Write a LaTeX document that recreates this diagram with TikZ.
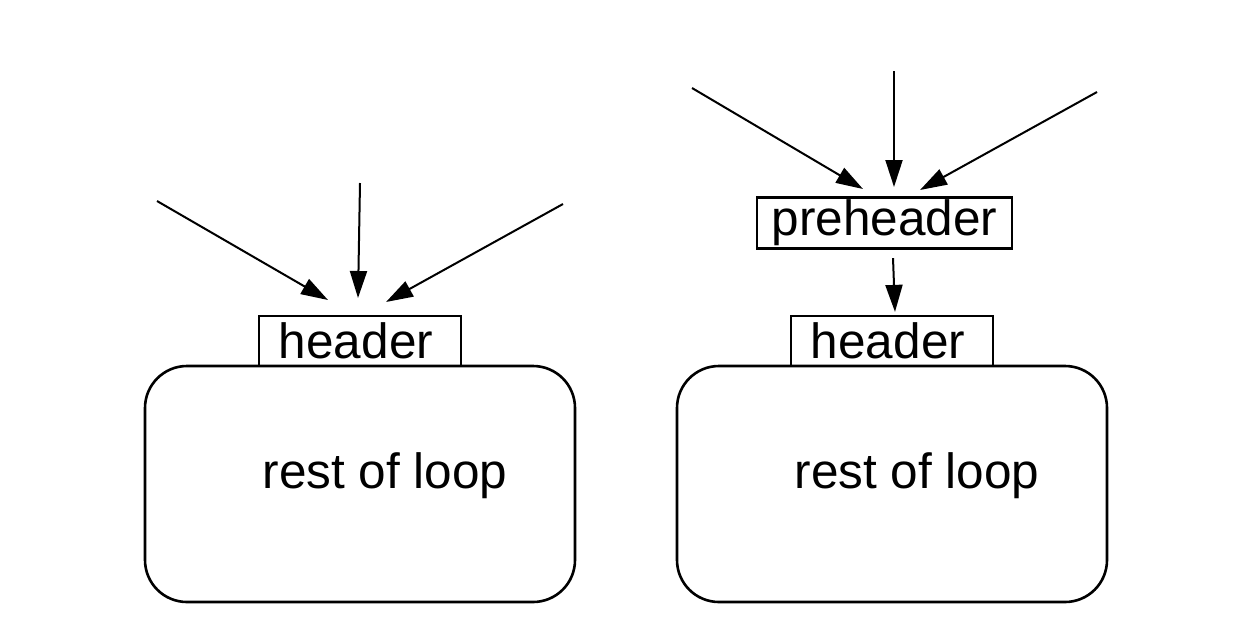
\documentclass[tikz,border=0pt]{standalone}
\usepackage{fontspec}
\setmainfont{Liberation Sans}
\usetikzlibrary{arrows.meta}
\begin{document}
\begin{tikzpicture}[x=1pt,y=-1pt,
  lbl/.style={font=\fontsize{49.5}{58}\selectfont},
  hbox/.style={draw,line width=2.2pt,inner sep=0pt,lbl},
  loopbox/.style={draw,line width=2.6pt,rounded corners=42pt,inner sep=0pt},
  edge/.style={line width=2pt,-{Triangle[length=27pt,width=17pt]}}]
\useasboundingbox (0,0) rectangle (1238,630);
% left
\node[loopbox,minimum width=430pt,minimum height=236pt] (loop1) at (360,484) {};
\node[lbl] (txt1) at (385,476) {rest of loop};
\node[hbox,minimum width=202pt,minimum height=50pt] (hdr1) at (360,341) {\hspace*{-8pt}header};
\coordinate (a1s) at (157,201); \coordinate (a1t) at (328,300);
\coordinate (b1s) at (360,183); \coordinate (b1t) at (358,298);
\coordinate (c1s) at (563,204); \coordinate (c1t) at (386,302);
\draw[edge] (a1s) -- (a1t);
\draw[edge] (b1s) -- (b1t);
\draw[edge] (c1s) -- (c1t);
% right
\node[loopbox,minimum width=430pt,minimum height=236pt] (loop2) at (892,484) {};
\node[lbl] (txt2) at (917,476) {rest of loop};
\node[hbox,minimum width=202pt,minimum height=50pt] (hdr2) at (892,341) {\hspace*{-8pt}header};
\node[hbox,minimum width=255pt,minimum height=51pt] (pre) at (884.5,223) {preheader};
\coordinate (a2s) at (692,88); \coordinate (a2t) at (863,189);
\coordinate (b2s) at (894,71); \coordinate (b2t) at (894,187);
\coordinate (c2s) at (1097,92); \coordinate (c2t) at (920,190);
\draw[edge] (a2s) -- (a2t);
\draw[edge] (b2s) -- (b2t);
\draw[edge] (c2s) -- (c2t);
\draw[edge] ([xshift=8.5pt,yshift=-8.5pt]pre.south) -- ([xshift=3pt,yshift=3pt]hdr2.north);
\end{tikzpicture}
\end{document}
